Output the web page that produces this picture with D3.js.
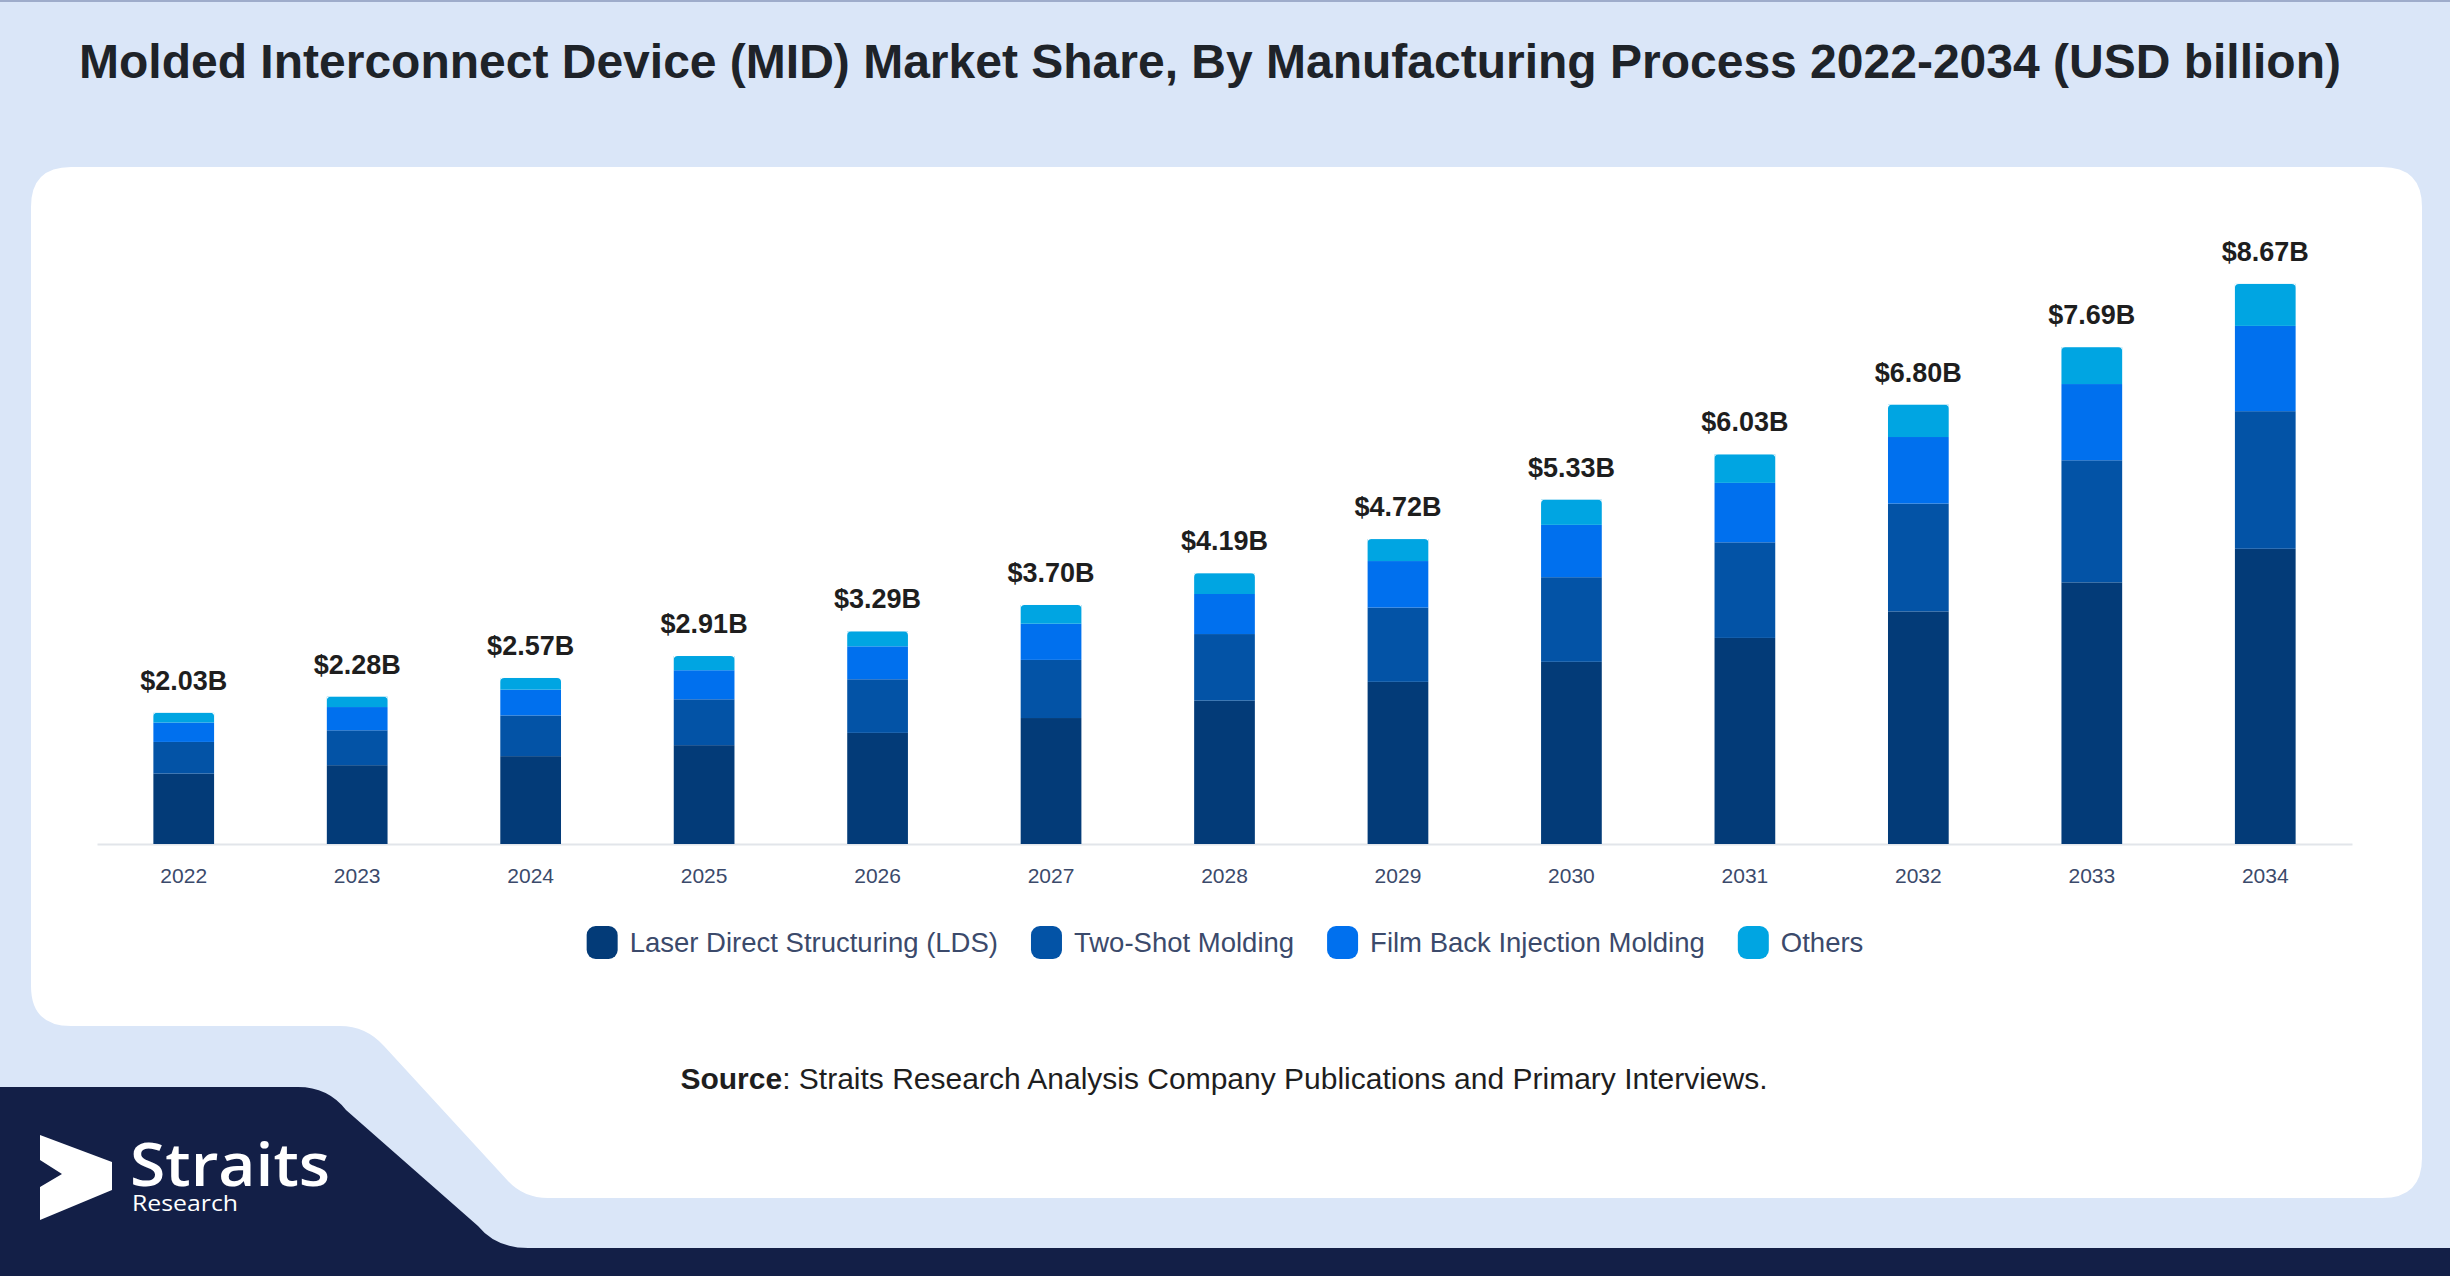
<!DOCTYPE html>
<html>
<head>
<meta charset="utf-8">
<script src="https://cdn.jsdelivr.net/npm/d3@7"></script>
<style>
  body { margin: 0; background: #dae6f8; }
  svg { display: block; font-family: "Liberation Sans", Arial, sans-serif; }
</style>
</head>
<body>
<svg id="chart" width="2450" height="1276"></svg>
<script>
////////////
/// DATA ///
////////////

const years = [2022, 2023, 2024, 2025, 2026, 2027, 2028, 2029, 2030, 2031, 2032, 2033, 2034];
const lds      = [1.09, 1.22, 1.36, 1.53, 1.72, 1.95, 2.22, 2.51, 2.82, 3.19, 3.60, 4.05, 4.57];
const twoShot  = [0.49, 0.54, 0.63, 0.71, 0.83, 0.90, 1.03, 1.15, 1.31, 1.48, 1.67, 1.89, 2.13];
const filmBack = [0.30, 0.36, 0.40, 0.45, 0.51, 0.56, 0.62, 0.72, 0.81, 0.92, 1.03, 1.18, 1.32];
const others   = [0.15, 0.16, 0.18, 0.22, 0.23, 0.29, 0.32, 0.34, 0.39, 0.44, 0.50, 0.57, 0.65];

const seriesNames = ['Laser Direct Structuring (LDS)', 'Two-Shot Molding', 'Film Back Injection Molding', 'Others'];
const colors = ['#033b78', '#0353a6', '#0070ee', '#00a5e2'];

const title = 'Molded Interconnect Device (MID) Market Share, By Manufacturing Process 2022-2034 (USD billion)';

// table for d3.stack
const keys = ['lds', 'twoShot', 'filmBack', 'others'];
const data = years.map(function(y, i) {
    return {year: y, lds: lds[i], twoShot: twoShot[i], filmBack: filmBack[i], others: others[i]};
});

const svg = d3.select('#chart');

//////////////////
/// BACKGROUND ///
//////////////////

svg.append('rect')
    .attr('width', 2450).attr('height', 1276)
    .attr('fill', '#dae6f8');

svg.append('rect')
    .attr('width', 2450).attr('height', 2)
    .attr('fill', '#9eaccb');

// white card with the cut-out in its bottom left corner
svg.append('path')
    .attr('fill', '#ffffff')
    .attr('d', 'M71,167 H2382 Q2422,167 2422,207 V1158 Q2422,1198 2382,1198 H548 ' +
               'Q524,1198 508,1181 L384,1046 Q366,1026 340,1026 H71 Q31,1026 31,986 V207 Q31,167 71,167 Z');

// navy footer band
svg.append('path')
    .attr('fill', '#131f47')
    .attr('d', 'M0,1087 H298 Q328,1087 346,1110 L478,1226 Q496,1248 528,1248 H2450 V1276 H0 Z');

// title
svg.append('text')
    .attr('x', 1210)
    .attr('y', 78)
    .attr('text-anchor', 'middle')
    .attr('font-size', 48)
    .attr('font-weight', 'bold')
    .attr('fill', '#1e2329')
    .text(title);

//////////////
/// SCALES ///
//////////////

const baseY = 844;

const xScale = d3.scaleBand()
    .domain(years)
    .range([97, 2352])
    .paddingInner(0.65)
    .paddingOuter(0.325);

const yScale = d3.scaleLinear()
    .domain([0, 10])
    .range([baseY, baseY - 646]);

// x-axis
const xAxis = svg.append('g')
    .attr('transform', 'translate(0,' + baseY + ')')
    .call(d3.axisBottom(xScale).tickSize(0).tickSizeOuter(0).tickPadding(24));

xAxis.select('.domain')
    .attr('stroke', '#e2e5ea')
    .attr('stroke-width', 2);

xAxis.selectAll('text')
    .attr('font-family', '"Liberation Sans", Arial, sans-serif')
    .attr('font-size', 21)
    .attr('fill', '#3b4a6b');

////////////
/// BARS ///
////////////

const stacked = d3.stack().keys(keys)(data);

svg.append('g')
    .selectAll('g').data(stacked).enter()
    .append('g')
    .attr('fill', function(d, i) {return colors[i]})
    .selectAll('rect').data(function(d) {return d}).enter()
        .append('rect')
        .attr('x', function(d) {return xScale(d.data.year)})
        .attr('y', function(d) {return yScale(d[1])})
        .attr('width', xScale.bandwidth())
        .attr('height', function(d) {return yScale(d[0]) - yScale(d[1])});

// small rounding on top of the stacks
svg.append('g')
    .selectAll('path').data(stacked[3]).enter()
    .append('path')
    .attr('fill', '#ffffff')
    .attr('d', function(d) {
        const x0 = xScale(d.data.year), x1 = x0 + xScale.bandwidth(), y0 = yScale(d[1]);
        return 'M' + x0 + ',' + y0 + ' h4 q-4,0 -4,4 Z M' + x1 + ',' + y0 + ' h-4 q4,0 4,4 Z';
    });

// total labels
svg.append('g')
    .selectAll('text').data(stacked[3]).enter()
    .append('text')
    .attr('x', function(d) {return xScale(d.data.year) + xScale.bandwidth()/2})
    .attr('y', function(d) {return yScale(d[1]) - 23})
    .attr('text-anchor', 'middle')
    .attr('font-size', 27)
    .attr('font-weight', 'bold')
    .attr('fill', '#1e1e1e')
    .text(function(d) {return '$' + d[1].toFixed(2) + 'B'});

//////////////
/// LEGEND ///
//////////////

const legend = svg.append('g');
const legendY = 942;
let lx = 0;
seriesNames.forEach(function(name, i) {
    const item = legend.append('g').attr('transform', 'translate(' + lx + ',0)');
    item.append('rect')
        .attr('x', 0).attr('y', legendY - 16)
        .attr('width', 31).attr('height', 33)
        .attr('rx', 9)
        .attr('fill', colors[i]);
    const t = item.append('text')
        .attr('x', 43).attr('y', legendY + 10)
        .attr('font-size', 27.5)
        .attr('fill', '#3b4a6b')
        .text(name);
    lx += 43 + t.node().getComputedTextLength() + 33;
});
legend.attr('transform', 'translate(' + (1225 - (lx - 33)/2) + ',0)');

//////////////
/// SOURCE ///
//////////////

const src = svg.append('text')
    .attr('x', 1224)
    .attr('y', 1089)
    .attr('text-anchor', 'middle')
    .attr('font-size', 30)
    .attr('fill', '#1e1e1e');
src.append('tspan').attr('font-weight', 'bold').text('Source');
src.append('tspan').text(': Straits Research Analysis Company Publications and Primary Interviews.');

////////////
/// LOGO ///
////////////

const logo = svg.append('g').attr('fill', '#ffffff');
logo.append('path')
    .attr('d', 'M40,1135 L112,1162 L112,1190 L40,1220 L40,1187 L62,1174 L40,1160 Z');
logo.append('text')
    .attr('x', 130).attr('y', 1186)
    .attr('font-family', '"Open Sans", sans-serif')
    .attr('font-size', 60)
    .attr('font-weight', 600)
    .attr('textLength', 200)
    .attr('lengthAdjust', 'spacingAndGlyphs')
    .text('Straits');
logo.append('text')
    .attr('x', 132).attr('y', 1211)
    .attr('font-family', '"Open Sans", sans-serif')
    .attr('font-size', 21)
    .attr('textLength', 106)
    .attr('lengthAdjust', 'spacingAndGlyphs')
    .text('Research');
</script>
</body>
</html>
